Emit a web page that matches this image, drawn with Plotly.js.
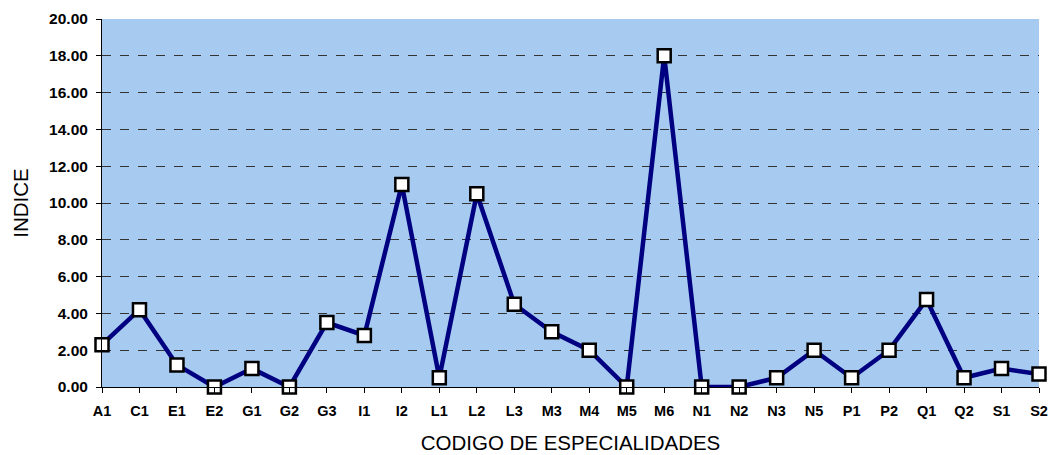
<!DOCTYPE html>
<html>
<head>
<meta charset="utf-8">
<script src="https://cdn.plot.ly/plotly-3.0.1.min.js"></script>
<style>html,body{margin:0;padding:0;background:#fff;}#chart{width:1052px;height:455px;}</style>
</head>
<body>
<div id="chart"></div>
<script>
const categories = ["A1","C1","E1","E2","G1","G2","G3","I1","I2","L1","L2","L3","M3","M4","M5","M6","N1","N2","N3","N5","P1","P2","Q1","Q2","S1","S2"];
const indice = [2.3,4.2,1.2,0,1.0,0,3.5,2.8,11.0,0.5,10.5,4.5,3.0,2.0,0,18.0,0,0,0.5,2.0,0.5,2.0,4.75,0.5,1.0,0.7];
const yTickVals = [0,2,4,6,8,10,12,14,16,18,20];

const trace = {
  x: categories.map((c,i)=>i),
  y: indice,
  type: 'scatter',
  mode: 'lines+markers',
  line: {color: '#000080', width: 4.5},
  marker: {symbol: 'square', size: 13, color: '#ffffff', line: {color: '#000000', width: 2.5}},
  cliponaxis: false,
  hoverinfo: 'skip'
};

const layout = {
  width: 1052, height: 455,
  margin: {l: 102, r: 13, t: 19, b: 68},
  paper_bgcolor: '#ffffff',
  plot_bgcolor: '#A6CAF0',
  showlegend: false,
  font: {family: 'Liberation Sans, Arial, sans-serif', color: '#000'},
  xaxis: {
    range: [0, 25],
    tickvals: categories.map((c,i)=>i),
    ticktext: categories.map(c=>'<b>'+c+'</b>'),
    tickfont: {size: 14.5, family: 'Liberation Sans, Arial, sans-serif'},
    ticks: 'outside', ticklen: 5, tickcolor: '#000', tickwidth: 1,
    ticklabelstandoff: 6,
    showgrid: false, zeroline: false,
    showline: true, linecolor: '#000', linewidth: 1,
    title: {text: 'CODIGO DE ESPECIALIDADES', font: {size: 20.5}, standoff: 17}
  },
  yaxis: {
    range: [0, 20],
    tickvals: yTickVals,
    ticktext: yTickVals.map(v=>'<b>'+v.toFixed(2)+'</b>'),
    tickfont: {size: 15.5, family: 'Liberation Sans, Arial, sans-serif'},
    ticks: 'outside', ticklen: 5, tickcolor: '#000', tickwidth: 1,
    ticklabelstandoff: 5,
    showgrid: true, gridcolor: '#333333', griddash: 'dash', gridwidth: 1,
    zeroline: false,
    showline: true, linecolor: '#000', linewidth: 1,
    title: {text: 'INDICE', font: {size: 20.5}, standoff: 14}
  }
};

Plotly.newPlot('chart', [trace], layout, {staticPlot: true, displayModeBar: false});
</script>
</body>
</html>
